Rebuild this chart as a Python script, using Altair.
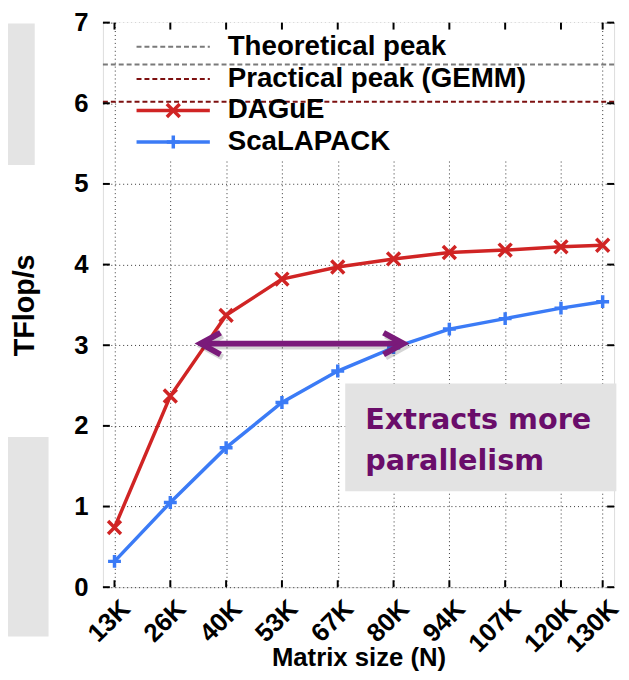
import altair as alt
import pandas as pd

# ---------------- data ----------------
x_labels = ["13K", "26K", "40K", "53K", "67K", "80K", "94K", "107K", "120K", "130K"]
x_n = [13.44, 26.88, 40.32, 53.76, 67.2, 80.64, 94.08, 107.52, 120.96, 131.0]
dague = [0.74, 2.37, 3.37, 3.82, 3.97, 4.07, 4.15, 4.18, 4.22, 4.24]
scalapack = [0.32, 1.05, 1.73, 2.29, 2.68, 2.97, 3.20, 3.33, 3.46, 3.54]
theoretical_peak = 6.48
practical_peak = 6.02
y_ticks = [0, 1, 2, 3, 4, 5, 6, 7]
legend_labels = ["Theoretical peak", "Practical peak (GEMM)", "DAGuE", "ScaLAPACK"]
arrow_from, arrow_to, arrow_y = 34.2, 83.0, 3.02
note_lines = ["Extracts more", "parallelism"]

# ---------------- styling ----------------
X_DOM = [10.65, 133.75]
Y_DOM = [0, 7]
RED = "#d02424"
BLUE = "#3b7bf6"
GREY_PEAK = "#7a7a7a"
MAROON = "#7d1010"
PURPLE = "#7a1a7a"
TEXT_PURPLE = "#6a0d6a"
FONT = "Liberation Sans"
XMARK = "M-1,-1L1,1M-1,1L1,-1"
PMARK = "M-1,0L1,0M0,-1L0,1"

label_expr = "[" + ",".join(f"'{l}'" for l in x_labels) + "][indexof([" + ",".join(
    str(v) for v in x_n) + "], datum.value)]"

x_axis = alt.Axis(values=x_n, labelExpr=label_expr, labelAngle=-45, labelAlign="right",
                  labelBaseline="top", labelPadding=8, labelOffset=2, labelOverlap=False,
                  labelBound=False, ticks=False, domain=False,
                  grid=True, gridDash=[1, 3], gridColor="#333333", gridWidth=1,
                  labelFontSize=26, labelFontWeight="bold", labelFont=FONT, labelColor="black",
                  title="Matrix size (N)", titleFontSize=26, titleFontWeight="bold",
                  titleFont=FONT, titleColor="black", titleBaseline="alphabetic", titleY=79)
y_axis = alt.Axis(values=y_ticks, ticks=False, domain=False, grid=True, gridDash=[1, 3],
                  gridColor="#333333", gridWidth=1, labelFontSize=26, labelFontWeight="bold",
                  labelFont=FONT, labelColor="black", labelPadding=15,
                  title="TFlop/s", titleFontSize=29, titleFontWeight="bold", titleFont=FONT,
                  titleColor="black", titlePadding=35)
xs = alt.Scale(domain=X_DOM, nice=False, zero=False)
ys = alt.Scale(domain=Y_DOM, nice=False, zero=False)


def X(f):
    return alt.X(f, type="quantitative", scale=xs, axis=x_axis)


def Y(f):
    return alt.Y(f, type="quantitative", scale=ys, axis=y_axis)


def df(**cols):
    return pd.DataFrame(cols)


layers = []

# background decorations (slide boxes on the left)
layers.append(alt.Chart(df(x=[-12.2, -12.2], x2=[-5.77, -2.44], y=[6.99, 1.863], y2=[5.235, -0.613]))
              .mark_rect(color="#e4e4e4", clip=False)
              .encode(x=X("x"), x2="x2", y=Y("y"), y2="y2"))

# legend background box
layers.append(alt.Chart(df(x=[13.9], x2=[130.5], y=[7.0], y2=[5.31])).mark_rect(color="white")
              .encode(x=X("x"), x2="x2", y=Y("y"), y2="y2"))

# peak lines
for val, col in [(theoretical_peak, GREY_PEAK), (practical_peak, MAROON)]:
    layers.append(alt.Chart(df(x=[X_DOM[0]], x2=[X_DOM[1]], y=[val]))
                  .mark_rule(strokeWidth=2, strokeDash=[5, 3], color=col)
                  .encode(x=X("x"), x2="x2", y=Y("y")))

# data series
for vals, col, shp in [(scalapack, BLUE, PMARK), (dague, RED, XMARK)]:
    d = df(N=x_n, v=vals)
    layers.append(alt.Chart(d).mark_line(strokeWidth=3.5, color=col).encode(x=X("N"), y=Y("v")))
    layers.append(alt.Chart(d).mark_point(filled=False, strokeWidth=3.5, size=170, opacity=1,
                                          color=col, shape=shp).encode(x=X("N"), y=Y("v")))

# inward ticks on all four sides
tk = []
for v in x_n:
    tk.append({"x": v, "x2": v, "y": 0, "y2": 0.086})
    tk.append({"x": v, "x2": v, "y": 7, "y2": 6.914})
for v in y_ticks:
    tk.append({"x": X_DOM[0], "x2": X_DOM[0] + 1.67, "y": v, "y2": v})
    tk.append({"x": X_DOM[1], "x2": X_DOM[1] - 1.67, "y": v, "y2": v})
layers.append(alt.Chart(pd.DataFrame(tk)).mark_rule(color="black", strokeWidth=2)
              .encode(x=X("x"), x2="x2", y=Y("y"), y2="y2"))

# manual legend
leg_y = [6.70, 6.30, 5.91, 5.52]
leg_style = [(GREY_PEAK, 2, [5, 3], None), (MAROON, 2, [5, 3], None),
             (RED, 3.5, None, XMARK), (BLUE, 3.5, None, PMARK)]
for yv, (col, w, dash, shp) in zip(leg_y, leg_style):
    kw = {"strokeDash": dash} if dash else {}
    layers.append(alt.Chart(df(x=[18.75], x2=[36.4], y=[yv]))
                  .mark_rule(strokeWidth=w, color=col, **kw)
                  .encode(x=X("x"), x2="x2", y=Y("y")))
    if shp:
        layers.append(alt.Chart(df(x=[27.6], y=[yv]))
                      .mark_point(filled=False, strokeWidth=3.5, size=170, opacity=1, color=col, shape=shp)
                      .encode(x=X("x"), y=Y("y")))
layers.append(alt.Chart(df(lab=legend_labels, x=[40.7] * 4, y=leg_y))
              .mark_text(align="left", baseline="middle", fontSize=28, fontWeight="bold",
                         font=FONT, color="black")
              .encode(x=X("x"), y=Y("y"), text="lab:N"))

# double arrow with a soft shadow
for color, op, off in [("#000000", 0.16, 3), (PURPLE, 1, 0)]:
    layers.append(alt.Chart(df(x=[arrow_from + 0.6], x2=[arrow_to - 0.6], y=[arrow_y]))
                  .mark_rule(strokeWidth=6, color=color, opacity=op, xOffset=off * 0.7, yOffset=off)
                  .encode(x=X("x"), x2="x2", y=Y("y")))
    for xv, path in [(arrow_from, "M2,-1.1L0,0L2,1.1"), (arrow_to, "M-2,-1.1L0,0L-2,1.1")]:
        layers.append(alt.Chart(df(x=[xv], y=[arrow_y]))
                      .mark_point(filled=False, strokeWidth=6, size=400, color=color, opacity=op,
                                  shape=path, xOffset=off * 0.7, yOffset=off)
                      .encode(x=X("x"), y=Y("y")))

# annotation box
layers.append(alt.Chart(df(x=[69.0], x2=[134.3], y=[2.525], y2=[1.19]))
              .mark_rect(color="#e3e3e3", clip=False)
              .encode(x=X("x"), x2="x2", y=Y("y"), y2="y2"))
layers.append(alt.Chart(df(t=note_lines, x=[73.8, 73.8], y=[1.96, 1.45]))
              .mark_text(align="left", baseline="alphabetic", fontSize=29, fontWeight="bold",
                         font="DejaVu Sans", color=TEXT_PURPLE)
              .encode(x=X("x"), y=Y("y"), text="t:N"))

chart = alt.layer(*layers).properties(
    width=517, height=571,
    autosize=alt.AutoSizeParams(type="none"),
    padding={"left": 96, "top": 11, "right": 7, "bottom": 82},
).configure_view(stroke="black", strokeWidth=3).configure(background="white")

chart.save("out.html", embed_options={"renderer": "svg", "actions": False})
